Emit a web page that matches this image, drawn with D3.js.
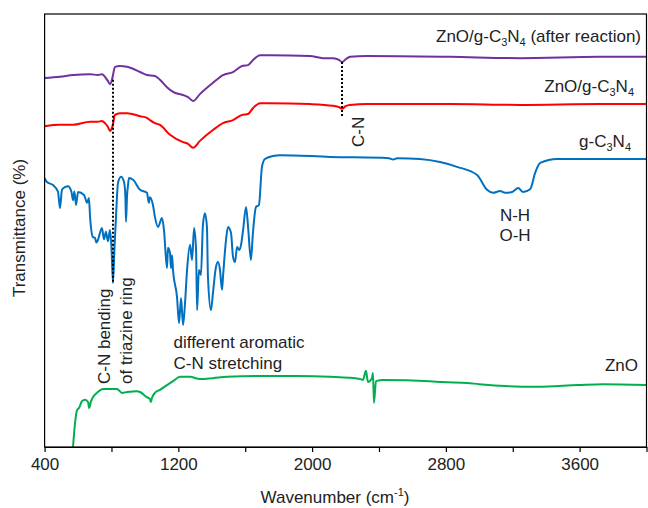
<!DOCTYPE html>
<html><head><meta charset="utf-8">
<script src="https://cdn.jsdelivr.net/npm/d3@7"></script>
<style>
html,body{margin:0;padding:0;background:#fff;}
svg text{font-family:"Liberation Sans",Arial,sans-serif;fill:#222;}
</style></head>
<body><svg id="c" width="648" height="508"></svg>
<script>
// ---------- data (wavenumber in cm-1, transmittance in arbitrary offset units) ----------
const afterWn = [400,492,570,672,719,743,761,779,791,803,809,821,851,893,971,1012,1060,1090,1132,1168,1228,1258,1288,1329,1407,1467,1527,1581,1617,1647,1689,1748,1987,2065,2125,2161,2179,2203,2227,2328,2825,3244,3722,4000];
const afterT  = [85.2,85.5,85.9,86.1,85.9,86.1,85.5,84.5,83.8,84.8,85.9,87.8,88.0,87.8,86.6,85.9,85.7,84.8,83.1,82.0,81.3,80.8,79.9,81.5,84.1,85.9,86.6,88.0,88.2,89.4,90.5,90.5,90.3,89.8,89.8,89.4,88.9,89.6,90.1,90.3,90.1,89.8,90.1,90.1];

const compWn = [400,492,570,672,719,743,761,779,791,803,809,821,851,893,971,1012,1030,1060,1090,1150,1228,1258,1288,1329,1407,1467,1527,1581,1617,1647,1689,1748,1987,2125,2161,2179,2203,2227,2328,2825,3244,3722,4000];
const compT  = [74.1,74.4,74.4,75.1,75.1,75.3,74.8,73.9,73.0,73.7,74.6,76.7,77.1,77.1,76.4,76.0,75.5,74.8,74.4,72.1,70.4,70.0,69.1,70.7,73.2,74.8,75.5,76.7,76.9,78.3,79.4,79.4,79.2,78.8,78.5,78.1,78.8,79.0,79.2,79.2,79.0,79.2,79.2];

const gcnWn = [400,414,450,480,492,504,522,540,560,570,578,588,600,636,654,665,672,689,701,710,719,743,755,767,779,791,800,809,818,827,839,857,875,883,887,893,899,905,929,971,1012,1024,1030,1048,1060,1078,1102,1114,1132,1138,1150,1156,1162,1168,1192,1204,1216,1228,1240,1252,1270,1282,1294,1306,1312,1323,1335,1347,1359,1371,1377,1395,1407,1425,1437,1449,1461,1467,1485,1497,1515,1527,1539,1551,1563,1575,1587,1605,1617,1634,1646,1664,1682,1700,1718,1766,1808,2107,2460,2484,2510,2645,2765,2867,2987,3046,3082,3124,3154,3196,3233,3262,3305,3334,3364,3466,3705,4000];
const gcnT  = [62.1,61.2,60.5,59.0,55.2,59.4,60.0,60.2,59.0,57.0,59.0,55.9,58.9,58.2,56.4,57.5,53.1,48.5,48.3,47.2,47.8,50.6,48.0,49.7,47.5,50.1,46.0,37.9,46.0,53.1,61.0,62.4,61.2,58.0,52.0,58.0,60.5,62.1,61.7,59.4,58.7,56.4,57.7,55.9,53.1,50.8,52.9,50.1,41.3,46.0,44.8,41.3,44.3,40.9,34.6,28.6,34.4,28.2,33.3,40.9,46.7,43.2,50.6,45.5,31.6,40.9,39.7,51.3,54.0,50.8,39.3,31.6,35.6,41.6,42.7,40.9,36.3,39.3,47.8,50.8,49.4,43.9,42.7,46.2,45.5,46.7,50.1,55.4,50.8,43.2,49.4,55.4,55.9,64.7,66.5,67.2,67.4,67.0,66.7,66.4,66.7,66.5,65.8,64.7,62.8,59.4,58.7,59.1,58.7,58.9,59.8,58.9,59.6,63.3,65.6,66.5,66.5,66.5];

const znoWn = [570,582,594,606,624,642,660,666,678,689,713,749,791,833,863,893,953,971,1012,1030,1036,1042,1060,1090,1132,1168,1210,1270,1329,1407,1491,1706,1910,2107,2286,2304,2322,2334,2358,2364,2370,2382,2424,2705,2777,2927,2999,3345,3590,3740,4000];
const znoT  = [0,5.5,8.5,9.0,10.6,10.9,10.4,9.0,10.6,11.5,12.5,13.4,13.4,13.4,12.5,12.7,12.9,12.7,11.5,11.1,10.4,11.3,12.5,13.2,14.3,15.2,16.2,16.2,15.7,15.9,16.2,16.4,16.4,16.2,15.7,15.5,17.6,15.0,15.9,17.1,10.2,15.2,15.5,15.2,15.0,14.8,14.5,13.9,14.3,14.5,14.3];

const xTicks = [400,800,1200,1600,2000,2400,2800,3200,3600,4000];
const xTickLabels = ["400","","1200","","2000","","2800","","3600",""];

// guide (dotted) lines: wavenumber, top value, bottom value
const guideWn  = [809, 2179];
const guideTop = [84.8, 88.9];
const guideBot = [37.9, 76.0];

// ---------- layout ----------
const svg = d3.select("#c");
const L = 44.6, R = 646.5, T = 14, B = 447;
const x = d3.scaleLinear().domain([400, 4000]).range([L, R]);
const y = d3.scaleLinear().domain([0, 100]).range([B, T]);

const series = [
  {wn: afterWn, t: afterT, color: "#7030A0"},
  {wn: compWn,  t: compT,  color: "#FF0000"},
  {wn: gcnWn,   t: gcnT,   color: "#0070C0"},
  {wn: znoWn,   t: znoT,   color: "#00B050"}
];

svg.append("clipPath").attr("id","clip").append("rect")
  .attr("x", L).attr("y", T).attr("width", R - L).attr("height", B - T);

const line = d3.line().x(d => x(d[0])).y(d => y(d[1])).curve(d3.curveMonotoneX);
const g = svg.append("g").attr("clip-path","url(#clip)");
series.forEach(s => {
  g.append("path")
    .datum(s.wn.map((w,i) => [w, s.t[i]]))
    .attr("d", line)
    .attr("fill","none").attr("stroke", s.color)
    .attr("stroke-width", 2).attr("stroke-linejoin","round");
});

// dotted guides
guideWn.forEach((w,i) => {
  svg.append("line")
    .attr("x1", x(w)).attr("x2", x(w))
    .attr("y1", y(guideTop[i])).attr("y2", y(guideBot[i]))
    .attr("stroke","#000").attr("stroke-width",2).attr("stroke-dasharray","2,2");
});

// frame
svg.append("rect").attr("x", L).attr("y", T).attr("width", R - L).attr("height", B - T)
  .attr("fill","none").attr("stroke","#000").attr("stroke-width",1.2);

// x axis
const xAxis = d3.axisBottom(x).tickValues(xTicks)
  .tickFormat((d,i) => xTickLabels[i]).tickSize(5).tickSizeOuter(0).tickPadding(6);
const ax = svg.append("g").attr("transform", `translate(0,${B})`).call(xAxis);
ax.select(".domain").attr("stroke","#000").attr("stroke-width",1.2);
ax.selectAll(".tick line").attr("stroke","#000").attr("stroke-width",1.2);
ax.selectAll(".tick text").attr("font-size", 17).attr("fill","#222")
  .attr("font-family",'"Liberation Sans",Arial,sans-serif');

const FS = 17;
function chem(sel, parts) {
  // parts: array of [text, "sub"|"sup"|undefined]; offsets are undone on the following part
  let pending = 0;
  parts.forEach(p => {
    const t = sel.append("tspan").text(p[0]);
    let dy = pending;
    if (p[1] === "sub") { t.attr("font-size", 11); dy += 4; pending = -4; }
    else if (p[1] === "sup") { t.attr("font-size", 11); dy -= 7; pending = 7; }
    else { pending = 0; }
    if (dy !== 0) t.attr("dy", dy);
  });
}
function txt(xp, yp, anchor) {
  return svg.append("text").attr("x", xp).attr("y", yp)
    .attr("font-size", FS).attr("text-anchor", anchor || "start");
}

// series labels
chem(txt(641, 42, "end"), [["ZnO/g-C"],["3","sub"],["N"],["4","sub"],[" (after reaction)"]]);
chem(txt(634, 92, "end"), [["ZnO/g-C"],["3","sub"],["N"],["4","sub"]]);
chem(txt(631, 147, "end"), [["g-C"],["3","sub"],["N"],["4","sub"]]);
txt(638, 371, "end").text("ZnO");

// annotations
txt(515, 221, "middle").text("N-H");
txt(515, 241, "middle").text("O-H");
txt(173.5, 348).text("different aromatic");
txt(173.5, 369).text("C-N stretching");
svg.append("text").attr("transform","translate(364,147) rotate(-90)")
  .attr("font-size", FS).text("C-N");
svg.append("text").attr("transform","translate(110,384) rotate(-90)")
  .attr("font-size", FS).text("C-N bending");
svg.append("text").attr("transform","translate(132,384) rotate(-90)")
  .attr("font-size", FS).text("of triazine ring");

// axis titles
chem(txt(335, 503, "middle"), [["Wavenumber (cm"],["-1","sup"],[")"]]);
svg.append("text").attr("transform","translate(25,228) rotate(-90)")
  .attr("font-size", FS).attr("text-anchor","middle").text("Transmittance (%)");
</script></body></html>
